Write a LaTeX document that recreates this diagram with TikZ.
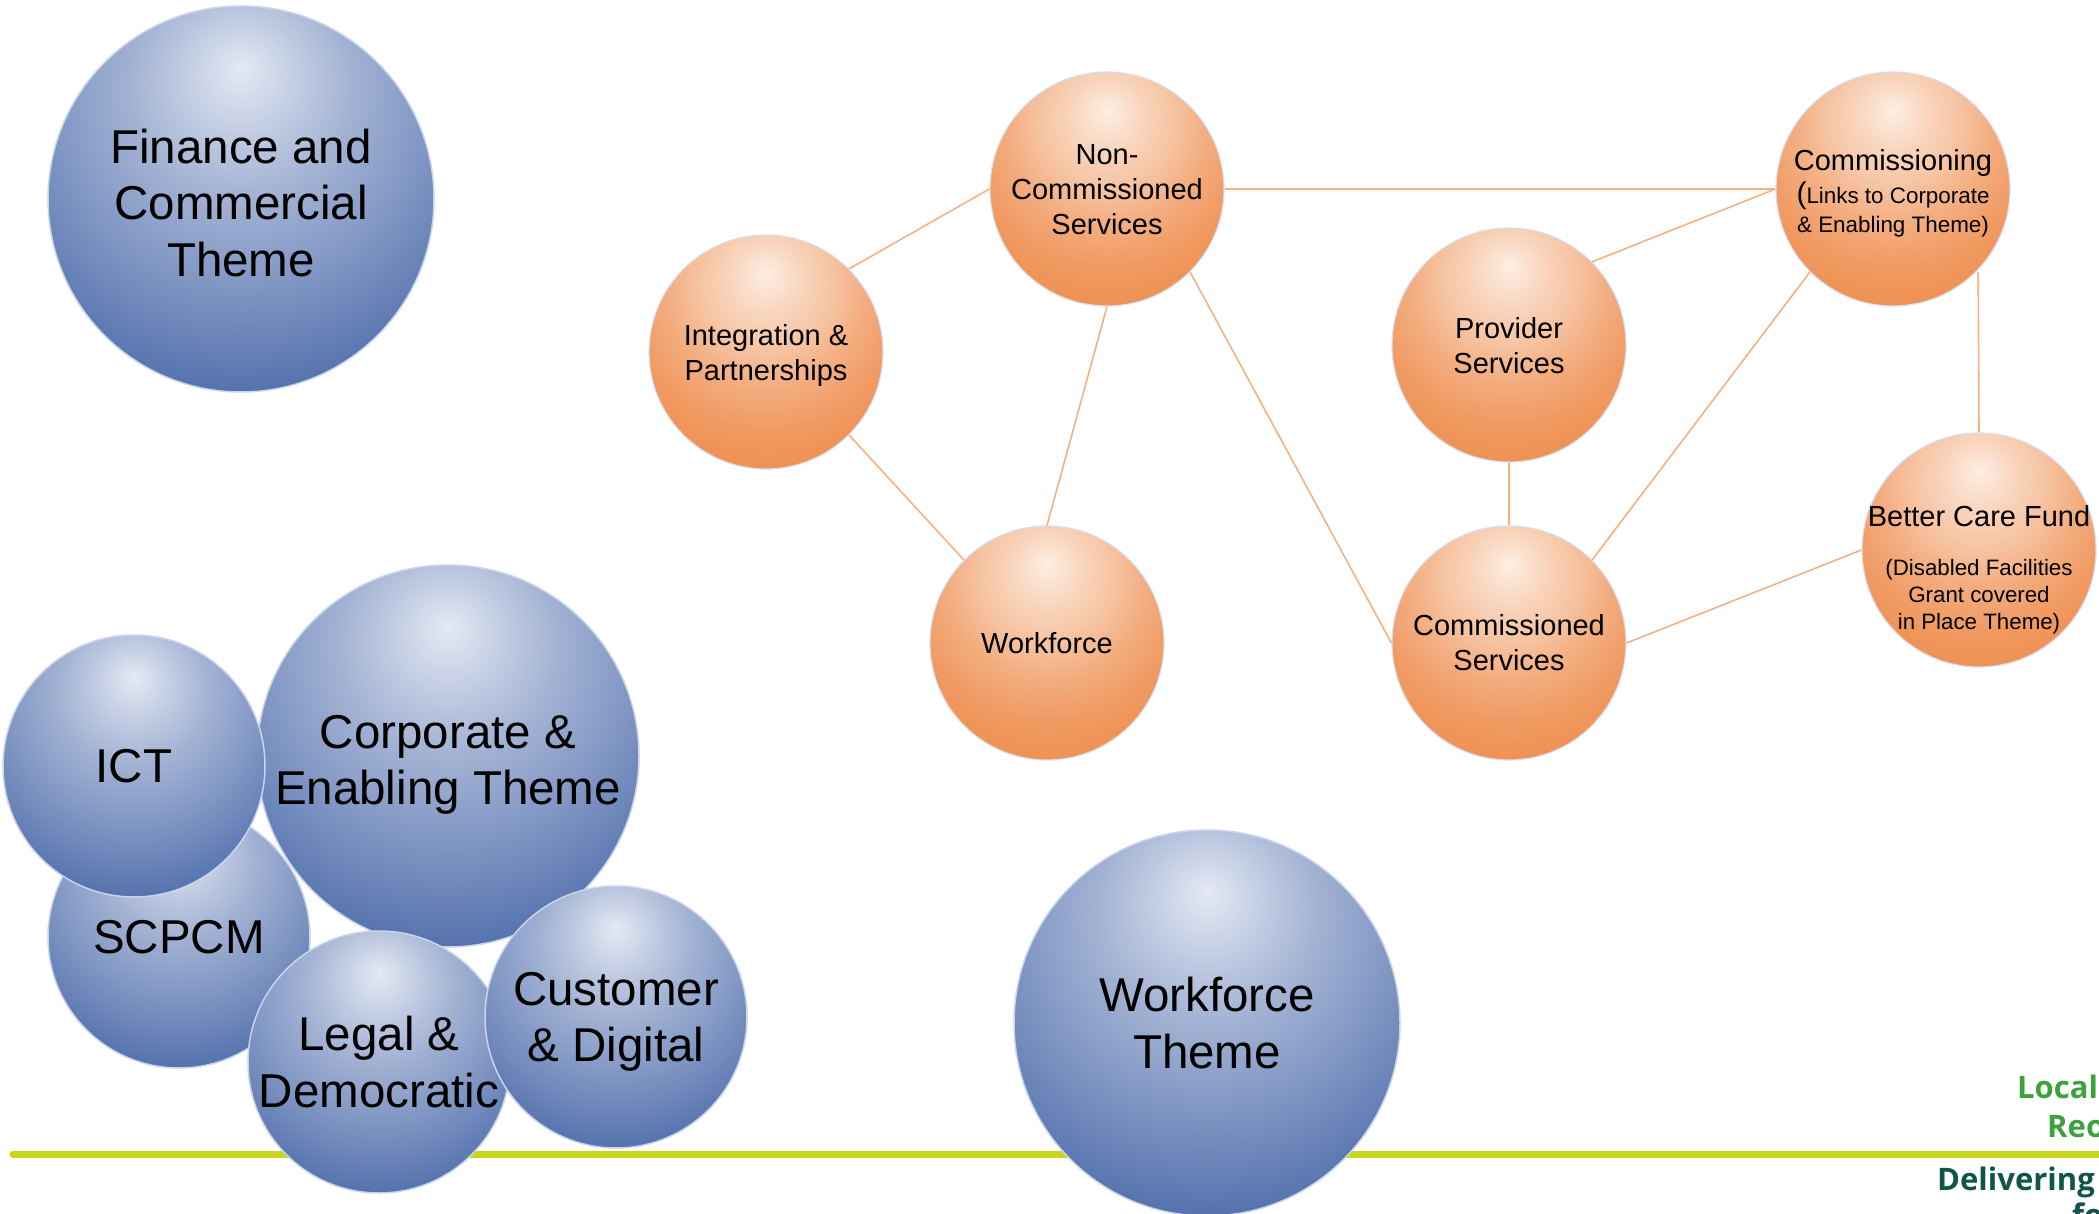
\documentclass[tikz,border=0pt]{standalone}
\usepackage{fontspec}
\setmainfont{Liberation Sans}
\newfontfamily\logofont{Open Sans}
\definecolor{bsA}{HTML}{E4E9F3}
\definecolor{bsB}{HTML}{C0CBE2}
\definecolor{bsC}{HTML}{A2B2D3}
\definecolor{bsD}{HTML}{8A9EC8}
\definecolor{bsE}{HTML}{6F88BB}
\definecolor{bsF}{HTML}{5472AD}
\definecolor{osA}{HTML}{FDEEE4}
\definecolor{osB}{HTML}{F9D5BD}
\definecolor{osC}{HTML}{F6C3A1}
\definecolor{osD}{HTML}{F3AC7E}
\definecolor{osE}{HTML}{F09A62}
\definecolor{osF}{HTML}{EF9153}
\definecolor{bluerim}{HTML}{CAD4EA}
\definecolor{orrim}{HTML}{D9DEEC}
\definecolor{linkc}{HTML}{F4B183}
\definecolor{limec}{HTML}{CAD41C}
\definecolor{logogreen}{HTML}{3DA23E}
\definecolor{logoteal}{HTML}{0F5648}
\pgfdeclareradialshading{bluesh}{\pgfpoint{0bp}{17bp}}{color(0bp)=(bsA); color(7.7bp)=(bsB); color(14.5bp)=(bsC); color(21.4bp)=(bsD); color(29bp)=(bsE); color(36bp)=(bsF); color(100bp)=(bsF)}
\pgfdeclareradialshading{orsh}{\pgfpoint{0bp}{17bp}}{color(0bp)=(osA); color(7.7bp)=(osB); color(14.5bp)=(osC); color(21.4bp)=(osD); color(29bp)=(osE); color(36bp)=(osF); color(100bp)=(osF)}
\tikzset{
  bluec/.style={circle, shade, shading=bluesh, draw=bluerim, line width=1.5pt, inner sep=0pt},
  bigc/.style={bluec, minimum size=386pt},
  smallc/.style={bluec, minimum size=262pt},
  orc/.style={circle, shade, shading=orsh, draw=orrim, line width=1.2pt, inner sep=0pt, minimum size=234pt},
  btext/.style={font=\fontsize{47.5}{56.5}\selectfont, align=center, inner sep=0pt},
  otext/.style={font=\fontsize{29}{35}\selectfont, align=center, inner sep=0pt},
  link/.style={draw=linkc, line width=1.6pt},
  logotext/.style={font=\logofont\bfseries\fontsize{31}{37}\selectfont, inner sep=0pt, anchor=base west}
}
\begin{document}
\begin{tikzpicture}[x=1pt,y=-1pt]
\useasboundingbox (0,0) rectangle (2099,1214);
\fill[white] (0,0) rectangle (2099,1214);
% baseline rule
\draw[limec, line width=7pt, line cap=round] (13,1154) -- (2120,1154);
% logo texts
\node[logotext, text=logogreen] (lgLocal) at (2017,1098) {Local};
\node[logotext, text=logogreen] (lgReo) at (2047,1137) {Reo};
\node[logotext, text=logoteal] (lgDel) at (1937,1190) {Delivering};
\node[logotext, text=logoteal] (lgFo) at (2072,1226) {fo};
% blue theme circles
\node[bigc] (finance) at (241,199) {};
\node[btext] (financeT) at ([yshift=-4pt]finance) {Finance and\\Commercial\\Theme};
\node[bigc, minimum size=382pt] (corp) at (448,756) {};
\node[smallc] (scpcm) at (179,937) {};
\node[smallc] (ict) at (134,766) {};
\node[smallc] (legal) at (379,1062) {};
\node[smallc] (cust) at (616,1017) {};
\node[btext] (corpT) at ([yshift=-9pt]corp) {Corporate \&\\Enabling Theme};
\node[btext] (ictT) at (ict) {ICT};
\node[btext] (scpcmT) at (scpcm) {SCPCM};
\node[btext] (legalT) at (legal) {Legal \&\\Democratic};
\node[btext] (custT) at ([yshift=-5pt]cust) {Customer\\\& Digital};
\node[bigc] (wft) at (1207,1023) {};
\node[btext] (wftT) at (wft) {Workforce\\Theme};
% orange service circles
\node[orc] (noncomm) at (1107,189) {};
\node[orc] (integ) at (766,352) {};
\node[orc] (wf) at (1047,643) {};
\node[orc] (prov) at (1509,345) {};
\node[orc] (commg) at (1893,189) {};
\node[orc] (commd) at (1509,643) {};
\node[orc] (bcf) at (1979,550) {};
% links
\draw[link] (integ.north east) -- (noncomm.west);
\draw[link] (integ.south east) -- (wf.north west);
\draw[link] (wf.north) -- (noncomm.south);
\draw[link] (noncomm.east) -- (commg.west);
\draw[link] (noncomm.south east) -- (commd.west);
\draw[link] (prov.north east) -- (commg.west);
\draw[link] (prov.south) -- (commd.north);
\draw[link] (commd.north east) -- (commg.south west);
\draw[link] ([xshift=2pt]commg.south east) -- (bcf.north);
\draw[link] (commd.east) -- (bcf.west);
% orange labels
\node[otext] (noncommT) at ([yshift=-1pt]noncomm) {Non-\\Commissioned\\Services};
\node[otext] (integT) at ([yshift=-4pt]integ) {Integration \&\\Partnerships};
\node[otext] (wfT) at (wf) {Workforce};
\node[otext] (provT) at ([yshift=-1pt]prov) {Provider\\Services};
\node[otext] (commdT) at (commd) {Commissioned\\Services};
\node[font=\fontsize{22.4}{29}\selectfont, align=center, inner sep=0pt] (commgT) at ([yshift=-4pt]commg) {{\fontsize{29}{35}\selectfont Commissioning}\\[4pt]{\fontsize{30}{35}\selectfont(}Links to Corporate\\\& Enabling Theme)};
\node[font=\fontsize{22.3}{27}\selectfont, align=center, inner sep=0pt] (bcfT) at ([yshift=-20pt]bcf) {{\fontsize{29}{35}\selectfont Better Care Fund}\\[22pt](Disabled Facilities\\Grant covered\\in Place Theme)};
\end{tikzpicture}
\end{document}
